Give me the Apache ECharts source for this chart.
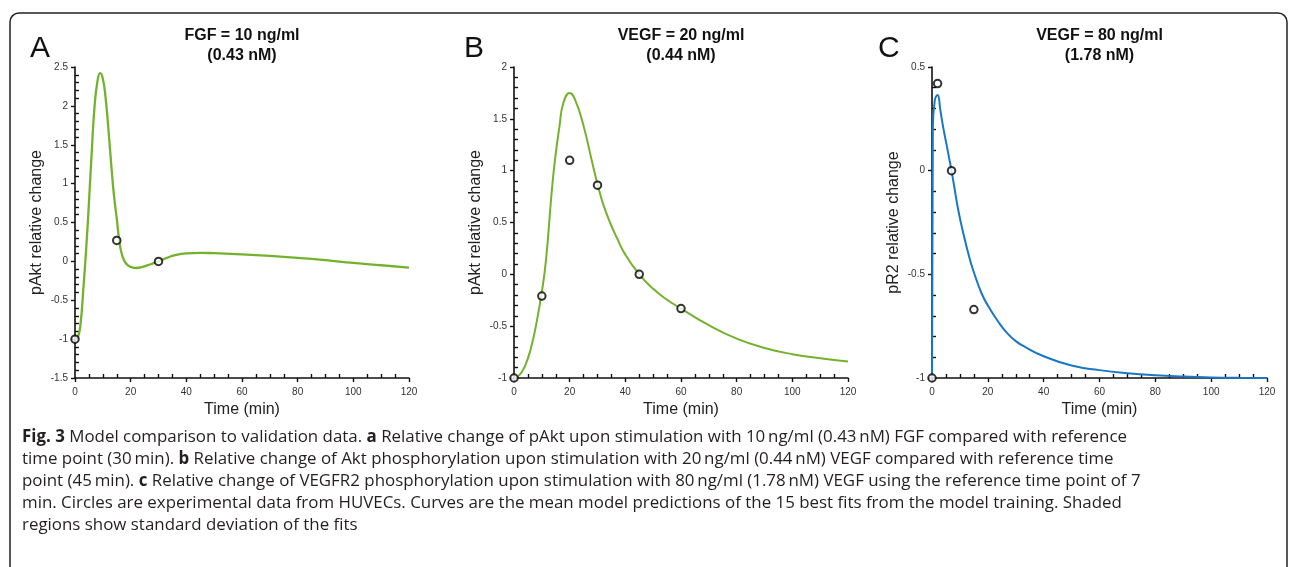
<!DOCTYPE html>
<html>
<head>
<meta charset="utf-8">
<script src="https://cdn.jsdelivr.net/npm/echarts@6/dist/echarts.min.js"></script>
<style>
html,body{margin:0;padding:0;background:#fff;}
#chart{width:1290px;height:567px;}
</style>
</head>
<body>
<div id="chart"></div>
<script>
// ---- Panel A: FGF 10 ng/ml, pAkt ----
const timeA = [0,1,2,3,4,5,6,7,8,9,10,11,12,13,14,15,16,17,18,19,20,22,24,26,28,30,33,36,40,45,50,60,70,80,90,100,110,120];
const fitA = [-1.0,-0.98,-0.8,-0.35,0.15,0.75,1.4,1.98,2.3,2.42,2.35,2.1,1.7,1.25,0.85,0.55,0.24,0.07,-0.01,-0.05,-0.07,-0.085,-0.075,-0.052,-0.026,0.0,0.045,0.08,0.103,0.11,0.105,0.09,0.07,0.045,0.015,-0.02,-0.05,-0.08];
const obsTimeA = [0,15,30];
const obsA = [-1,0.27,0];

// ---- Panel B: VEGF 20 ng/ml, pAkt ----
const timeB = [0,2,4,6,8,10,11.5,13.5,14.7,16.3,17.7,20,22,25,28,30,32,34.5,37,40,45,50,55,60,70,80,90,100,110,120];
const fitB = [-1,-0.97,-0.88,-0.72,-0.48,-0.17,0.14,0.78,1.1,1.42,1.65,1.75,1.68,1.43,1.09,0.87,0.68,0.5,0.35,0.19,0.0,-0.14,-0.245,-0.33,-0.49,-0.62,-0.71,-0.77,-0.81,-0.84];
const obsTimeB = [0,10,20,30,45,60];
const obsB = [-1,-0.21,1.1,0.86,0,-0.33];

// ---- Panel C: VEGF 80 ng/ml, pR2 ----
const timeC = [0,0.3,1,2,3,4,5,6,7,8,9.4,11,13.6,15,17.7,20,23.8,27,30,33.3,40,50,60,70,80,90,100,110,120];
const fitC = [-1,0.2,0.34,0.365,0.29,0.21,0.14,0.07,0.0,-0.08,-0.19,-0.29,-0.43,-0.49,-0.59,-0.65,-0.73,-0.785,-0.822,-0.85,-0.895,-0.94,-0.962,-0.977,-0.987,-0.993,-0.997,-0.999,-1.0];
const obsTimeC = [0,2,7,15];
const obsC = [-1,0.42,0,-0.67];

// ---- Text ----
const panelLetters = ['A','B','C'];
const panelTitles = ['FGF = 10 ng/ml\n(0.43 nM)','VEGF = 20 ng/ml\n(0.44 nM)','VEGF = 80 ng/ml\n(1.78 nM)'];
const yNames = ['pAkt relative change','pAkt relative change','pR2 relative change'];
const xName = 'Time (min)';
const yRanges = [[-1.5,2.5],[-1,2],[-1,0.5]];
const xRange = [0,120];
const captionLines = [
  '{b|Fig. 3} Model comparison to validation data. {b|a} Relative change of pAkt upon stimulation with 10\u2009ng/ml (0.43\u2009nM) FGF compared with reference',
  'time point (30\u2009min). {b|b} Relative change of Akt phosphorylation upon stimulation with 20\u2009ng/ml (0.44\u2009nM) VEGF compared with reference time',
  'point (45\u2009min). {b|c} Relative change of VEGFR2 phosphorylation upon stimulation with 80\u2009ng/ml (1.78\u2009nM) VEGF using the reference time point of 7',
  'min. Circles are experimental data from HUVECs. Curves are the mean model predictions of the 15 best fits from the model training. Shaded',
  'regions show standard deviation of the fits'
];

const zip = (xs, ys) => xs.map((x, i) => [x, ys[i]]);

const grids = [
  {left: 75, top: 67, width: 334, height: 311},
  {left: 514, top: 67, width: 334, height: 311},
  {left: 932, top: 67, width: 335, height: 311}
];
const lineColors = ['#74b22e', '#74b22e', '#1a77c5'];
const lineWidths = [2.3, 2, 2];
const fits = [zip(timeA, fitA), zip(timeB, fitB), zip(timeC, fitC)];
const obs = [zip(obsTimeA, obsA), zip(obsTimeB, obsB), zip(obsTimeC, obsC)];

const font = 'Liberation Sans, Arial, sans-serif';
const axisCommon = {
  axisLine: {show: true, onZero: false, lineStyle: {color: '#111', width: 1.6}},
  axisTick: {show: true, inside: false, length: 4, lineStyle: {color: '#111', width: 1.4}},
  minorTick: {show: true, length: -4, lineStyle: {color: '#111', width: 1.4}},
  splitLine: {show: false},
  minorSplitLine: {show: false},
  axisLabel: {color: '#333', fontSize: 10, fontFamily: font},
  nameTextStyle: {color: '#222', fontSize: 16, fontFamily: font}
};

const xAxes = grids.map((g, i) => Object.assign({}, axisCommon, {
  type: 'value', gridIndex: i, min: xRange[0], max: xRange[1], interval: 20,
  minorTick: Object.assign({}, axisCommon.minorTick, {splitNumber: 4}),
  axisLabel: Object.assign({}, axisCommon.axisLabel, {margin: 9}),
  name: xName, nameLocation: 'middle', nameGap: 24
}));
const yAxes = grids.map((g, i) => Object.assign({}, axisCommon, {
  type: 'value', gridIndex: i, min: yRanges[i][0], max: yRanges[i][1], interval: 0.5,
  minorTick: Object.assign({}, axisCommon.minorTick, {splitNumber: 5}),
  axisLabel: Object.assign({}, axisCommon.axisLabel, {margin: 7}),
  name: yNames[i], nameLocation: 'middle', nameGap: 30
}));

const series = [];
for (let i = 0; i < 3; i++) {
  series.push({
    type: 'line', xAxisIndex: i, yAxisIndex: i, data: fits[i],
    showSymbol: false, smooth: 0.5,
    lineStyle: {color: lineColors[i], width: lineWidths[i]}, z: 2
  });
  series.push({
    type: 'scatter', xAxisIndex: i, yAxisIndex: i, data: obs[i],
    symbol: 'circle', symbolSize: 7.5, clip: false,
    itemStyle: {color: '#fff', borderColor: '#000', borderWidth: 2}, z: 5
  });
}

const graphics = [
  {type: 'rect', shape: {x: 10, y: 13, width: 1277, height: 600, r: 9},
   style: {fill: 'none', stroke: '#222', lineWidth: 1.5}, z: 0}
];
const letterX = [30, 464, 878];
grids.forEach((g, i) => {
  graphics.push({type: 'text', x: letterX[i], y: 49,
    style: {text: panelLetters[i], font: '30px ' + font, fill: '#111', textVerticalAlign: 'middle'}});
  graphics.push({type: 'text', x: g.left + g.width / 2, y: 26,
    style: {text: panelTitles[i], font: 'bold 16px ' + font, fill: '#111', textAlign: 'center',
            textVerticalAlign: 'top', lineHeight: 20}});
});
const capFont = 'Open Sans, Noto Sans, sans-serif';
captionLines.forEach((t, k) => {
  graphics.push({type: 'text', x: 22, y: 437 + k * 22,
    style: {text: t, fill: '#231f20', fontSize: 16.9, fontFamily: capFont, textVerticalAlign: 'middle',
      rich: {b: {fontWeight: 'bold', fontSize: 16.9, fontFamily: capFont, fill: '#231f20'}}}});
});

const chart = echarts.init(document.getElementById('chart'), null, {renderer: 'canvas'});
chart.setOption({
  animation: false,
  backgroundColor: '#fff',
  grid: grids.map(g => Object.assign({containLabel: false}, g)),
  xAxis: xAxes,
  yAxis: yAxes,
  series: series,
  graphic: graphics
});
</script>
</body>
</html>
